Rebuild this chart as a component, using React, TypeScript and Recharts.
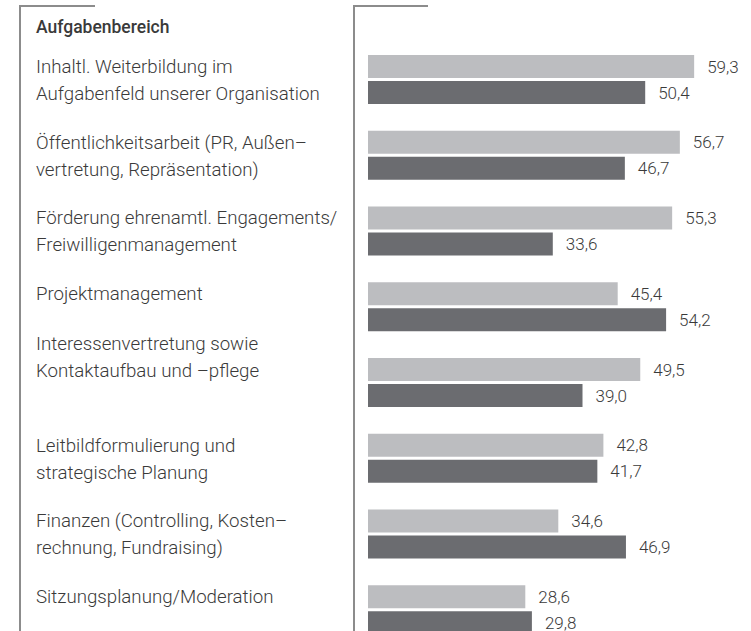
import { BarChart, Bar, XAxis, YAxis, LabelList } from 'recharts';

const categories = [
  'Inhaltl. Weiterbildung im\nAufgabenfeld unserer Organisation',
  'Öffentlichkeitsarbeit (PR, Außen–\nvertretung, Repräsentation)',
  'Förderung ehrenamtl. Engagements/\nFreiwilligenmanagement',
  'Projektmanagement',
  'Interessenvertretung sowie\nKontaktaufbau und –pflege',
  'Leitbildformulierung und\nstrategische Planung',
  'Finanzen (Controlling, Kosten–\nrechnung, Fundraising)',
  'Sitzungsplanung/Moderation',
];
const seriesA = [59.3, 56.7, 55.3, 45.4, 49.5, 42.8, 34.6, 28.6];
const seriesB = [50.4, 46.7, 33.6, 54.2, 39.0, 41.7, 46.9, 29.8];

const data = categories.map((name, i) => ({ name, a: seriesA[i], b: seriesB[i] }));

const FONT = 'Roboto, "Noto Sans", sans-serif';
const TEXT = '#3a3a3a';
const LINE = '#8c8c8c';

const fmt = (v: any) => String(Number(v).toFixed(1)).replace('.', ',');

function CategoryTick(props: any) {
  const { y, payload, index } = props;
  const lines = String(payload.value).split('\n');
  // the "Interessenvertretung" label sits one line higher in the original
  const start = index === 4 ? y - 39 : y - 13;
  return (
    <text x={36} y={start} fill={TEXT} fontSize={18.7} fontWeight={300} fontFamily={FONT} dominantBaseline="central">
      {lines.map((l, i) => (
        <tspan key={i} x={36} y={start + i * 27}>{l}</tspan>
      ))}
    </text>
  );
}

export default function App() {
  return (
    <div style={{ position: 'absolute', left: 0, top: 0, width: 751, height: 631, overflow: 'hidden', background: '#fff' }}>
      {/* frame lines */}
      <div style={{ position: 'absolute', left: 19, top: 5, width: 2, height: 640, background: LINE }} />
      <div style={{ position: 'absolute', left: 19, top: 5, width: 76, height: 1.5, background: LINE }} />
      <div style={{ position: 'absolute', left: 353, top: 5, width: 2, height: 640, background: LINE }} />
      <div style={{ position: 'absolute', left: 353, top: 5, width: 75, height: 1.5, background: LINE }} />
      <div style={{ position: 'absolute', left: 36, top: 17, fontFamily: FONT, fontWeight: 500, fontSize: 17.5, color: TEXT }}>
        Aufgabenbereich
      </div>
      <div style={{ position: 'absolute', left: 0, top: 0 }}>
        <BarChart
          width={751}
          height={658}
          data={data}
          layout="vertical"
          margin={{ top: 42, right: 53, bottom: 10, left: 0 }}
          barGap={3}
          barSize={23}
        >
          <XAxis type="number" domain={[0, 60]} hide />
          <YAxis
            type="category"
            dataKey="name"
            width={368}
            axisLine={false}
            tickLine={false}
            tick={<CategoryTick />}
            interval={0}
          />
          <Bar dataKey="a" fill="#bcbdc0" isAnimationActive={false}>
            <LabelList dataKey="a" position="right" offset={13} formatter={fmt} fill={TEXT} fontSize={17} fontWeight={300} fontFamily={FONT} />
          </Bar>
          <Bar dataKey="b" fill="#6b6c70" isAnimationActive={false}>
            <LabelList dataKey="b" position="right" offset={13} formatter={fmt} fill={TEXT} fontSize={17} fontWeight={300} fontFamily={FONT} />
          </Bar>
        </BarChart>
      </div>
    </div>
  );
}
